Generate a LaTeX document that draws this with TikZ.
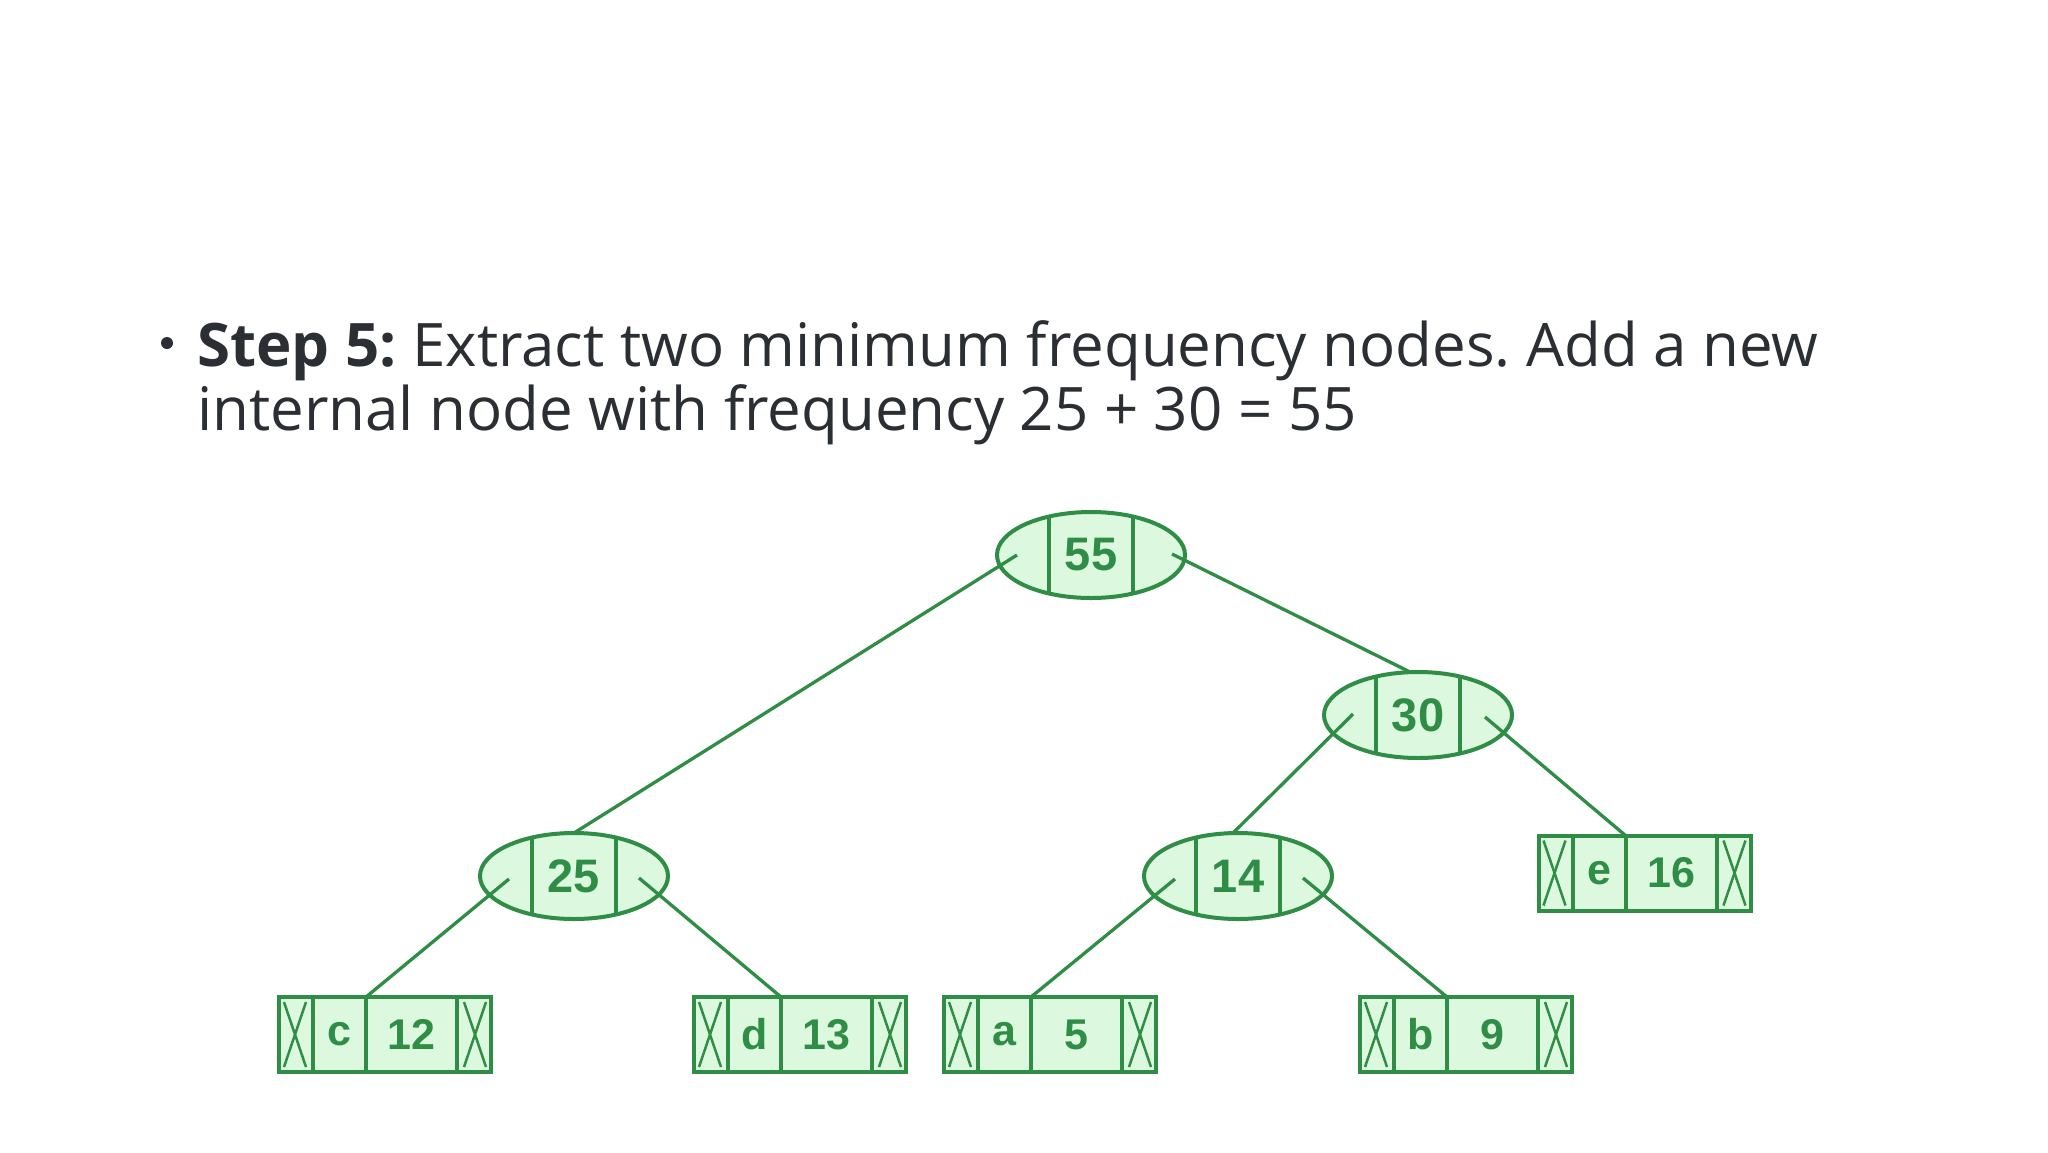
\documentclass[tikz,border=0pt]{standalone}
\usepackage{fontspec}
\setmainfont{Open Sans}
\newfontfamily\nodefont{Liberation Sans}
\usetikzlibrary{shapes.geometric}
\definecolor{gstroke}{RGB}{47,141,70}
\definecolor{gfill}{RGB}{220,249,224}
\definecolor{txt}{RGB}{43,46,51}
\tikzset{
  leafbox/.style={draw=gstroke, fill=gfill, line width=4pt, minimum width=212pt, minimum height=75pt, inner sep=0pt, outer sep=0pt},
  ellbox/.style={ellipse, draw=gstroke, fill=gfill, line width=4pt, minimum width=188pt, minimum height=86pt, inner sep=0pt, outer sep=0pt},
  cellline/.style={draw=gstroke, line width=4pt},
  xline/.style={draw=gstroke, line width=2.5pt},
  edgeline/.style={draw=gstroke, line width=3.3pt},
  lbl/.style={text=gstroke, font=\nodefont\bfseries\fontsize{43}{43}\selectfont, inner sep=0pt},
  elbl/.style={text=gstroke, font=\nodefont\bfseries\fontsize{47}{47}\selectfont, inner sep=0pt},
  bodytext/.style={anchor=base west, inner sep=0pt, text=txt, font=\fontsize{60}{64}\selectfont},
}
\newcommand{\hleaf}[5]{%
  \node[leafbox] (#1) at (#2,#3) {};
  \draw[cellline] ([xshift=-72pt]#1.north) -- ([xshift=-72pt]#1.south);
  \draw[cellline] ([xshift=-19pt]#1.north) -- ([xshift=-19pt]#1.south);
  \draw[cellline] ([xshift=72pt]#1.north) -- ([xshift=72pt]#1.south);
  \draw[xline] ([xshift=5pt,yshift=-5pt]#1.north west) -- ([xshift=27pt,yshift=5pt]#1.south west);
  \draw[xline] ([xshift=27pt,yshift=-5pt]#1.north west) -- ([xshift=5pt,yshift=5pt]#1.south west);
  \draw[xline] ([xshift=-27pt,yshift=-5pt]#1.north east) -- ([xshift=-5pt,yshift=5pt]#1.south east);
  \draw[xline] ([xshift=-5pt,yshift=-5pt]#1.north east) -- ([xshift=-27pt,yshift=5pt]#1.south east);
  \node[lbl] (#1-l) at ([xshift=-45.5pt]#1.center) {#4};
  \node[lbl] (#1-n) at ([xshift=26.5pt]#1.center) {#5};
}
\newcommand{\ellnode}[4]{%
  \node[ellbox] (#1) at (#2,#3) {};
  \draw[cellline] ([xshift=-42pt,yshift=38pt]#1.center) -- ([xshift=-42pt,yshift=-38pt]#1.center);
  \draw[cellline] ([xshift=42pt,yshift=38pt]#1.center) -- ([xshift=42pt,yshift=-38pt]#1.center);
  \node[elbl] (#1-n) at (#1.center) {#4};
}
\frenchspacing
\begin{document}
\begin{tikzpicture}[x=1pt,y=-1pt]
\useasboundingbox (0,0) rectangle (2048,1152);
\fill[white] (0,0) rectangle (2048,1152);

% text
\node[circle, fill=txt, inner sep=0pt, minimum size=12pt] (bullet) at (167,343) {};
\node[bodytext] (line1) at (197,366) {\textbf{Step 5:} Extract two minimum frequency nodes. Add a new};
\node[bodytext] (line2) at (197,430) {internal node with frequency 25 + 30 = 55};

% tree nodes
\ellnode{n55}{1091}{555}{55}
\ellnode{n30}{1418}{715}{30}
\ellnode{n25}{574}{876}{25}
\ellnode{n14}{1238}{876}{14}
\hleaf{c}{385}{1034.5}{c}{12}
\hleaf{d}{800}{1034.5}{d}{13}
\hleaf{a}{1050}{1034.5}{a}{5}
\hleaf{b}{1466}{1034.5}{b}{9}
\hleaf{e}{1644.5}{873}{e}{16}

% edges
\draw[edgeline] ([xshift=-74pt]n55.center) -- (n25.north);
\draw[edgeline] ([xshift=81pt,yshift=1pt]n55.center) -- ([xshift=-8pt]n30.north);
\draw[edgeline] ([xshift=-65pt,yshift=1pt]n30.center) -- ([xshift=-5pt]n14.north);
\draw[edgeline] ([xshift=67pt,yshift=-2pt]n30.center) -- ([xshift=-19pt]e.north);
\draw[edgeline] ([xshift=-65pt,yshift=-3pt]n25.center) -- ([xshift=-19pt]c.north);
\draw[edgeline] ([xshift=65pt,yshift=-2pt]n25.center) -- ([xshift=-19pt]d.north);
\draw[edgeline] ([xshift=-63pt,yshift=-3pt]n14.center) -- ([xshift=-19pt]a.north);
\draw[edgeline] ([xshift=65pt,yshift=-2pt]n14.center) -- ([xshift=-19pt]b.north);
\end{tikzpicture}
\end{document}
